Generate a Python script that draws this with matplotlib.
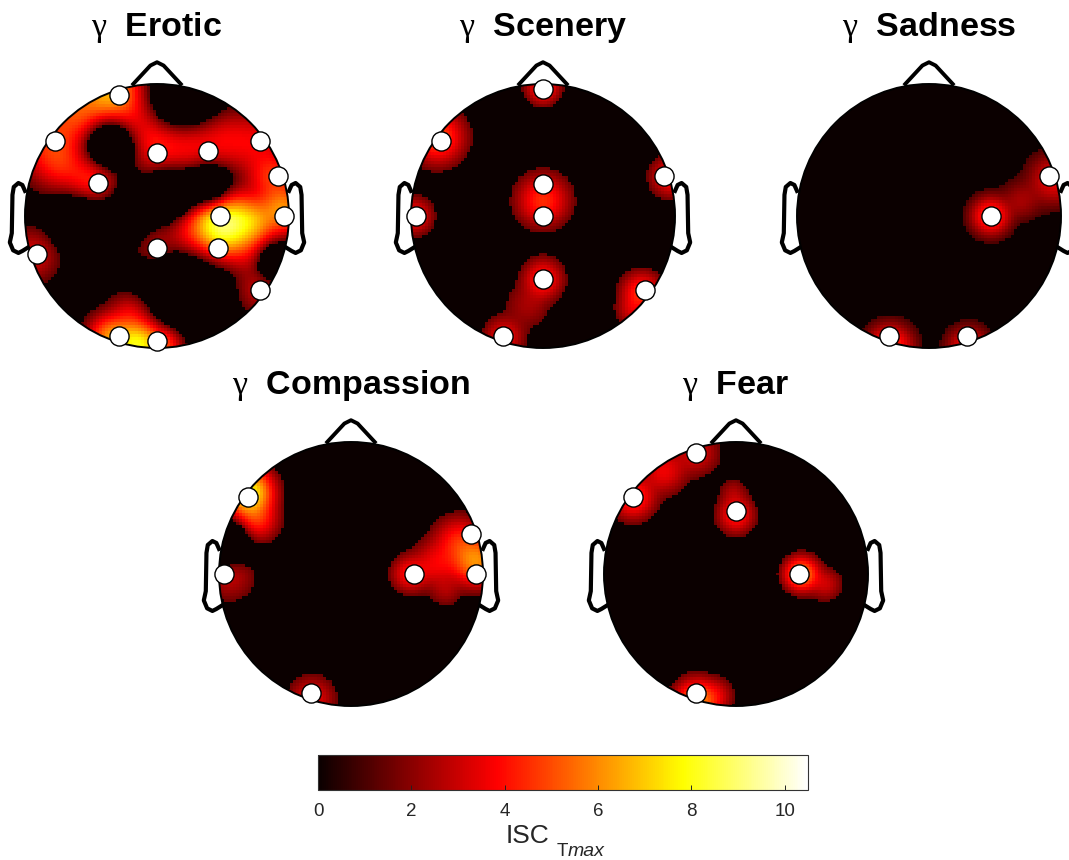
import numpy as np
import matplotlib
matplotlib.use("Agg")
import matplotlib.pyplot as plt
from matplotlib.patches import Circle
from matplotlib.cm import ScalarMappable
from matplotlib.colors import Normalize

plt.rcParams['font.family'] = ['Liberation Sans']
plt.rcParams['mathtext.fontset'] = 'custom'
plt.rcParams['mathtext.rm'] = 'Liberation Sans'
plt.rcParams['mathtext.it'] = 'Liberation Serif'
plt.rcParams['mathtext.bf'] = 'Liberation Sans:bold'

VMAX = 10.5
CBAR_TICKS = [0, 2, 4, 6, 8, 10]
titles = ["Erotic", "Scenery", "Sadness", "Compassion", "Fear"]

# electrodes, head units
el_erotic = [(-.29,.92),(-.77,.57),(0,.48),(.39,.49),(.78,.57),(-.45,.25),(.92,.30),(.96,0),
             (.48,0),(.46,-.24),(0,-.24),(-.91,-.29),(.78,-.56),(-.29,-.91),(0,-.95)]
el_scenery = [(0,.96),(-.77,.57),(.92,.30),(0,.24),(0,0),(-.96,0),(0,-.48),(.77,-.56),(-.30,-.91)]
el_sadness = [(.91,.30),(.47,0),(-.30,-.91),(.29,-.91)]
el_compassion = [(-.78,.58),(.91,.30),(-.96,0),(.48,0),(.95,0),(-.30,-.90)]
el_fear = [(-.30,.92),(-.78,.58),(0,.48),(.48,0),(-.30,-.90)]
electrodes = [el_erotic, el_scenery, el_sadness, el_compassion, el_fear]

# ISC field read as peaks: x, y, value, width
pk_erotic = [(-.35,.95,6.5,.2),(-.6,.8,5,.22),(-.8,.55,4.5,.22),(-.5,.27,4.4,.17),(-.72,.38,3.6,.17),(-.2,.72,3.8,.2),
             (0,.55,4.2,.2),(.25,.55,3.8,.2),(.5,.58,3.6,.2),(.75,.55,3.5,.2),(.88,.3,4.5,.17),(.96,.05,6,.16),
             (.5,-.07,9,.2),(.72,-.05,6,.17),(.25,-.15,3.5,.16),(0,-.22,3,.16),
             (.78,-.55,3,.16),(.7,-.3,3,.15),(-.95,-.3,3.2,.17),
             (-.15,-.98,8,.16),(-.35,-.92,6,.14),(-.2,-.75,3.6,.14),(.05,-.98,5,.12),
             (-.35,.55,-6,.12),(.1,.17,-5,.12),(.4,.22,-5,.11),(.9,-.35,-4,.1),(.2,.9,-5,.17),
             (.2,-.55,-4,.2),(-.6,-.02,-4,.13),(-.2,.02,-3,.14)]
pk_scenery = [(0,.98,4.5,.11),(-.8,.6,5,.17),(.97,.3,4,.13),(-.98,0,4,.12),(0,.12,4.5,.17),
              (0,-.48,4.2,.13),(-.12,-.68,2.4,.16),(-.3,-.92,3.6,.13),(.75,-.58,4.5,.13),(.68,-.72,3,.11)]
pk_sadness = [(.47,0,4.8,.12),(.7,.12,2.4,.13),(.95,.28,3.5,.16),(-.3,-1,5,.14),(.3,-1,4,.13)]
pk_compassion = [(-.78,.62,8,.15),(-.72,.42,4.5,.14),(-.92,-.02,2.8,.17),(.45,0,4,.12),(.65,.08,3.6,.16),
                 (.95,.1,6,.16),(.82,.25,4.2,.16),(.72,-.13,2.4,.11),(-.3,-.95,3.5,.15),(-.93,.25,-5,.1)]
pk_fear = [(-.78,.58,4.5,.14),(-.55,.78,3.6,.15),(-.3,.92,3.2,.15),(0,.45,4.2,.12),(-.02,.62,2.4,.1),
           (.5,0,6,.11),(.68,-.08,3,.11),(-.3,-.97,6,.14),(-.15,-.92,3,.11)]
peaks = [pk_erotic, pk_scenery, pk_sadness, pk_compassion, pk_fear]
thresholds = [1.3, 1.5, 1.0, 1.5, 1.5]

W, H = 1069, 860
R = 132
centers = [(157,216),(543,216),(929,216),(351,574),(736,574)]
SPAN = 1.3
fig = plt.figure(figsize=(W/100, H/100), dpi=100, facecolor='white')

nose = ([-.18,-.05,0,.05,.18],[1.0,1.14,1.165,1.14,1.0])
ear_x = [-1.0,-1.02,-1.05,-1.085,-1.095,-1.10,-1.115,-1.09,-1.05,-1.02,-.98]
ear_y = [.19,.235,.25,.22,.16,-.13,-.2,-.26,-.28,-.265,-.24]

grid = np.linspace(-1.02, 1.02, 91)
gx, gy = np.meshgrid(grid, grid)
for title, els, pks, thr, (cx, cy) in zip(titles, electrodes, peaks, thresholds, centers):
    size = 2*SPAN*R
    ax = fig.add_axes([(cx-SPAN*R)/W, 1-(cy+SPAN*R)/H, size/W, size/H])
    ax.set_xlim(-SPAN, SPAN); ax.set_ylim(-SPAN, SPAN); ax.axis('off')
    pos = np.zeros_like(gx); neg = np.zeros_like(gx)
    for x, y, a, s in pks:
        g = a*np.exp(-((gx-x)**2+(gy-y)**2)/(2*s*s))
        if a > 0:
            pos += g**2.5
        else:
            neg += g
    z = pos**0.4 + neg
    z[z < thr] = 0
    mesh = ax.pcolormesh(gx, gy, z, cmap='hot', vmin=0, vmax=VMAX, shading='nearest', zorder=1)
    mesh.set_clip_path(Circle((0,0), 1, transform=ax.transData))
    ax.add_patch(Circle((0,0), 1, fill=False, ec='black', lw=1.4, zorder=2))
    ax.plot(*nose, color='black', lw=2.8, zorder=2, solid_joinstyle='round')
    ax.plot(ear_x, ear_y, color='black', lw=3, zorder=2, clip_on=False, solid_joinstyle='round')
    ax.plot(-np.array(ear_x), ear_y, color='black', lw=3, zorder=2, clip_on=False, solid_joinstyle='round')
    ax.scatter(*zip(*els), s=190, c='white', edgecolors='black', linewidths=1.0, zorder=3, clip_on=False)
    ax.text(0, 1.425, r"$\gamma$  " + title, ha='center', va='center', fontsize=24.5, fontweight='bold', clip_on=False)

cax = fig.add_axes([318/W, 1-790/H, 490/W, 35/H])
cb = fig.colorbar(ScalarMappable(Normalize(0, VMAX), 'hot'), cax=cax, orientation='horizontal')
cb.set_ticks(CBAR_TICKS)
cb.ax.tick_params(direction='in', length=3.5, width=0.7, color='#222222', labelsize=13.5, labelcolor='#262626', pad=9)
cb.outline.set_linewidth(0.8)
cb.outline.set_edgecolor('#333333')
fig.text(527/W, 1-836/H, "ISC", ha='center', va='center', fontsize=19, color='#262626')
fig.text(557/W, 1-852/H, "T", ha='left', va='center', fontsize=13.5, color='#262626')
fig.text(568/W, 1-852/H, "max", ha='left', va='center', fontsize=14, style='italic', color='#262626')
fig.savefig("out.png", dpi=100)
